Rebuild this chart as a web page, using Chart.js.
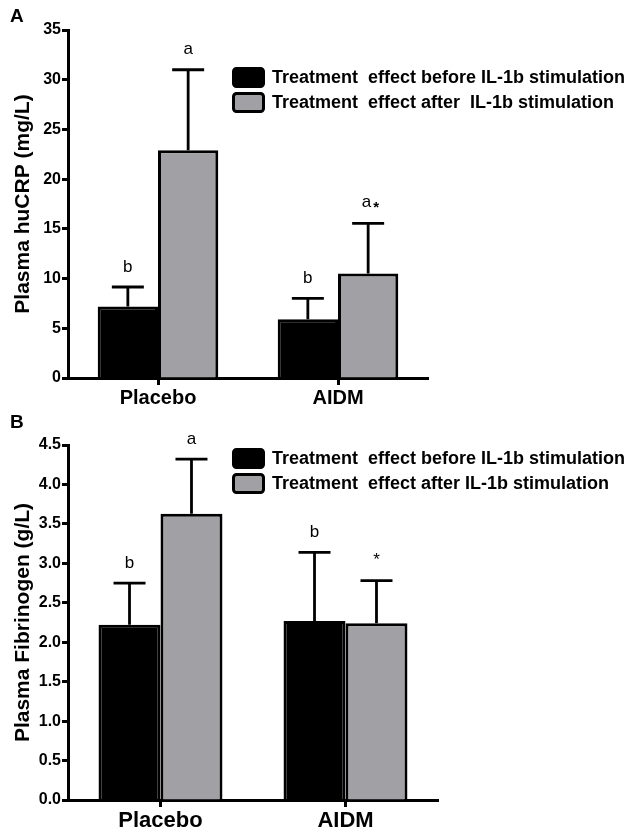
<!DOCTYPE html>
<html>
<head>
<meta charset="utf-8">
<script src="https://cdn.jsdelivr.net/npm/chart.js@4.4.1/dist/chart.umd.min.js"></script>
<style>
    body { margin: 0; background: #fff; }
    #wrap { position: relative; width: 630px; height: 831px; background: #fff; }
    .panel { position: absolute; left: 0; }
    .letter { position: absolute; left: 10px; font: bold 19px "Liberation Sans", Arial, sans-serif; color: #000; }
</style>
</head>
<body>
<div id="wrap">
    <div class="panel" style="top:0"><canvas id="chartA" width="630" height="410"></canvas></div>
    <div class="panel" style="top:410px"><canvas id="chartB" width="630" height="421"></canvas></div>
    <div class="letter" style="top:5px">A</div>
    <div class="letter" style="top:411px">B</div>
</div>
<script>
// data
const groups = ['Placebo', 'AIDM'];

const crpBefore = [7.2, 5.9];
const crpBeforeErr = [1.95, 2.1];
const crpAfter = [22.9, 10.5];
const crpAfterErr = [8.1, 5.05];
const crpBeforeMarks = ['b', 'b'];
const crpAfterMarks = ['a', 'a*'];

const fibBefore = [2.22, 2.27];
const fibBeforeErr = [0.53, 0.87];
const fibAfter = [3.63, 2.24];
const fibAfterErr = [0.69, 0.54];
const fibBeforeMarks = ['b', 'b'];
const fibAfterMarks = ['a', '*'];

const crpTicks = [0, 5, 10, 15, 20, 25, 30, 35];
const fibTicks = [0, 0.5, 1.0, 1.5, 2.0, 2.5, 3.0, 3.5, 4.0, 4.5];

const labelBefore = 'Treatment  effect before IL-1b stimulation';
const labelAfterA = 'Treatment  effect after  IL-1b stimulation';
const labelAfterB = 'Treatment  effect after IL-1b stimulation';

const FONT = '"Liberation Sans", Arial, sans-serif';

// upper error bars + significance letters
const errorBarPlugin = {
    id: 'errorBars',
    afterDatasetsDraw(chart) {
        const ctx = chart.ctx;
        const yScale = chart.scales.y;
        chart.data.datasets.forEach((ds, i) => {
            const meta = chart.getDatasetMeta(i);
            meta.data.forEach((bar, j) => {
                const topY = yScale.getPixelForValue(ds.data[j] + ds.errors[j]);
                ctx.save();
                ctx.strokeStyle = '#000';
                ctx.lineWidth = 2.8;
                ctx.beginPath();
                ctx.moveTo(bar.x, bar.y);
                ctx.lineTo(bar.x, topY);
                ctx.moveTo(bar.x - 16, topY);
                ctx.lineTo(bar.x + 16, topY);
                ctx.stroke();

                // letter, with a smaller lowered star when one follows it
                const mark = ds.marks[j];
                ctx.fillStyle = '#000';
                ctx.textBaseline = 'middle';
                if (mark.length > 1 && mark.endsWith('*')) {
                    ctx.font = '17px ' + FONT;
                    ctx.textAlign = 'right';
                    ctx.fillText(mark.slice(0, -1), bar.x + 3, topY - 21);
                    ctx.font = 'bold 15px ' + FONT;
                    ctx.textAlign = 'left';
                    ctx.fillText('*', bar.x + 5, topY - 16);
                } else {
                    ctx.font = '17px ' + FONT;
                    ctx.textAlign = 'center';
                    ctx.fillText(mark, bar.x, topY - 20);
                }
                ctx.restore();
            });
        });
    }
};

// legend inside the plot, top right
const boxLegendPlugin = {
    id: 'boxLegend',
    afterDraw(chart, args, opts) {
        const ctx = chart.ctx;
        chart.data.datasets.forEach((ds, i) => {
            const x = opts.x;
            const y = opts.y + i * opts.gap;
            ctx.save();
            ctx.beginPath();
            ctx.roundRect(x + 1.5, y + 1.5, 30, 18, 3);
            ctx.fillStyle = ds.backgroundColor;
            ctx.fill();
            ctx.lineWidth = 3;
            ctx.strokeStyle = '#000';
            ctx.stroke();
            ctx.fillStyle = '#000';
            ctx.font = 'bold 18px ' + FONT;
            ctx.textAlign = 'left';
            ctx.textBaseline = 'middle';
            ctx.fillText(ds.label, x + 40, y + 11, opts.textWidth);
            ctx.restore();
        });
    }
};

function makeChart(id, cfg) {
    const ctx = document.getElementById(id).getContext('2d');
    return new Chart(ctx, {
        type: 'bar',
        data: {
            labels: groups,
            datasets: [{
                label: labelBefore,
                data: cfg.before,
                errors: cfg.beforeErr,
                marks: cfg.beforeMarks,
                backgroundColor: '#000000',
                borderColor: '#000000',
                borderWidth: 3
            }, {
                label: cfg.afterLabel,
                data: cfg.after,
                errors: cfg.afterErr,
                marks: cfg.afterMarks,
                backgroundColor: '#a1a1a5',
                borderColor: '#000000',
                borderWidth: 3
            }]
        },
        options: {
            responsive: false,
            animation: false,
            devicePixelRatio: 1,
            layout: {
                padding: { top: cfg.padTop, right: cfg.padRight, left: 0, bottom: 0 }
            },
            datasets: {
                bar: { categoryPercentage: 0.67, barPercentage: 1.0 }
            },
            plugins: {
                legend: { display: false },
                tooltip: { enabled: false },
                boxLegend: { x: 232, y: cfg.legendY, gap: 25, textWidth: 355 }
            },
            scales: {
                x: {
                    afterFit(scale) { scale.height = cfg.xHeight; },
                    border: { display: true, color: '#000', width: 3 },
                    grid: {
                        offset: false,
                        drawOnChartArea: false,
                        drawTicks: true,
                        tickLength: 7,
                        tickWidth: 3,
                        tickColor: '#000'
                    },
                    ticks: {
                        color: '#000',
                        padding: 1,
                        font: { family: FONT, size: cfg.catSize, weight: 'bold' }
                    }
                },
                y: {
                    min: 0,
                    max: cfg.ticks[cfg.ticks.length - 1],
                    afterFit(scale) { scale.width = 68; },
                    afterBuildTicks(scale) { scale.ticks = cfg.ticks.map(v => ({ value: v })); },
                    border: { display: true, color: '#000', width: 3 },
                    grid: {
                        drawOnChartArea: false,
                        drawTicks: true,
                        tickLength: 6,
                        tickWidth: 3,
                        tickColor: '#000'
                    },
                    ticks: {
                        color: '#000',
                        padding: 1,
                        font: { family: FONT, size: 16, weight: 'bold' },
                        callback: function(value) {
                            return value.toFixed(cfg.decimals);
                        }
                    },
                    title: {
                        display: true,
                        text: cfg.title,
                        color: '#000',
                        padding: { top: 11, bottom: 0 },
                        font: { family: FONT, size: 21, weight: 'bold' }
                    }
                }
            }
        },
        plugins: [errorBarPlugin, boxLegendPlugin]
    });
}

document.addEventListener('DOMContentLoaded', function() {
    makeChart('chartA', {
        before: crpBefore, beforeErr: crpBeforeErr, beforeMarks: crpBeforeMarks,
        after: crpAfter, afterErr: crpAfterErr, afterMarks: crpAfterMarks,
        afterLabel: labelAfterA,
        ticks: crpTicks, decimals: 0,
        title: 'Plasma huCRP (mg/L)',
        padTop: 30, padRight: 202, xHeight: 32, catSize: 20, legendY: 67
    });
    makeChart('chartB', {
        before: fibBefore, beforeErr: fibBeforeErr, beforeMarks: fibBeforeMarks,
        after: fibAfter, afterErr: fibAfterErr, afterMarks: fibAfterMarks,
        afterLabel: labelAfterB,
        ticks: fibTicks, decimals: 1,
        title: 'Plasma Fibrinogen (g/L)',
        padTop: 35, padRight: 192, xHeight: 31, catSize: 22, legendY: 38
    });
});
</script>
</body>
</html>
